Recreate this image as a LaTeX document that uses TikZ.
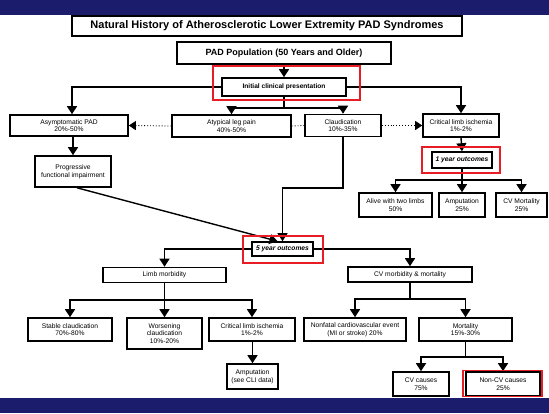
\documentclass[tikz,border=0pt]{standalone}
\usepackage{fontspec}
\setmainfont{Liberation Sans}
\usetikzlibrary{arrows.meta}
\definecolor{navy}{RGB}{28,28,108}
\definecolor{hred}{RGB}{232,28,36}
\begin{document}
\begin{tikzpicture}[x=1pt,y=-1pt,
  box/.style={draw=black,line width=1.6pt,fill=white,inner sep=0pt,align=center,
    font=\fontsize{6.7}{7.6}\selectfont},
  sz/.style 2 args={minimum width=#1pt,minimum height=#2pt},
  redbox/.style={draw=hred,line width=1.8pt,inner sep=0pt},
  conn/.style={line width=1.4pt,-{Triangle[width=10pt,length=8pt]}},
  plainline/.style={line width=1.4pt},
  dots/.style={line width=0.9pt,dotted},
  dtip/.style={-{Triangle[width=9pt,length=7pt]}},
]
\useasboundingbox (0,0) rectangle (549,413);
\fill[white] (0,0) rectangle (549,413);
\fill[navy] (0,0) rectangle (549,15);
\fill[navy] (0,398) rectangle (549,413);

% nodes
\node[box,sz={390}{20},font=\fontsize{11}{13}\selectfont\bfseries] (title) at (267,26) {Natural History of Atherosclerotic Lower Extremity PAD Syndromes};
\node[box,sz={214}{22},font=\fontsize{9}{11}\selectfont\bfseries] (pad) at (284,53) {PAD Population (50 Years and Older)};
\node[box,sz={124}{18},font=\fontsize{6.6}{8}\selectfont\bfseries] (init) at (284,87) {Initial clinical presentation};

\node[box,sz={118}{21}] (asym) at (69,125.5) {Asymptomatic PAD\\20\%-50\%};
\node[box,sz={119}{22}] (atyp) at (231.5,126) {Atypical leg pain\\40\%-50\%};
\node[box,sz={76}{22}] (claud) at (343,125.5) {Claudication\\10\%-35\%};
\node[box,sz={76}{23}] (cli) at (461,125.5) {Critical limb ischemia\\1\%-2\%};
\node[box,sz={76}{31}] (prog) at (73,171.5) {Progressive\\functional impairment};

\node[box,sz={60}{16},font=\fontsize{6.7}{7.6}\selectfont\bfseries\itshape] (one) at (462,160) {1 year outcomes};
\node[box,sz={73}{24}] (alive) at (395.5,205) {Alive with two limbs\\50\%};
\node[box,sz={46}{24}] (amp1) at (462,205) {Amputation\\25\%};
\node[box,sz={51}{24}] (cvmort) at (521.5,205) {CV Mortality\\25\%};

\node[box,sz={61}{14},font=\fontsize{6.7}{7.6}\selectfont\bfseries\itshape] (five) at (282.5,249) {5 year outcomes};
\node[box,sz={123}{15}] (limb) at (164.5,275) {Limb morbidity};
\node[box,sz={124}{15}] (cvm) at (410,274.5) {CV morbidity \& mortality};

\node[box,sz={84}{23}] (stable) at (70,329.5) {Stable claudication\\70\%-80\%};
\node[box,sz={75}{31}] (worse) at (164.5,333.5) {Worsening\\claudication\\10\%-20\%};
\node[box,sz={86}{23}] (cli2) at (252,329.5) {Critical limb ischemia\\1\%-2\%};
\node[box,sz={51}{25}] (amp2) at (252.5,376.5) {Amputation\\(see CLI data)};
\node[box,sz={102}{23}] (nonfatal) at (355,329.5) {Nonfatal cardiovascular event\\(MI or stroke) 20\%};
\node[box,sz={93}{23}] (mort) at (465.5,329.5) {Mortality\\15\%-30\%};
\node[box,sz={56}{24}] (cvc) at (421,384) {CV causes\\75\%};
\node[box,sz={74}{24}] (noncv) at (503,384) {Non-CV causes\\25\%};

% connectors
\draw[conn] (pad.south) -- (init.north);
\draw[conn] (init.west) -| ([xshift=3pt]asym.north);
\draw[conn] (init.east) -| (cli.north);
\coordinate (s1) at (284,108);
\draw[plainline] (init.south) -- (s1);
\draw[conn] (s1) -| (atyp.north);
\draw[conn] (s1) -| (claud.north);
\draw[dots,dtip] (atyp.west) -- (asym.east);
\draw[dots] (atyp.east) -- (claud.west);
\draw[dots,dtip] (claud.east) -- (cli.west);
\draw[conn] (asym.south -| prog.north) -- (prog.north);
\draw[conn] ([xshift=4pt]prog.south) -- ([xshift=-5pt]five.north);
\coordinate (cb) at (343,188);
\draw[conn] (claud.south) -- (cb) -| (five.north);

\draw[conn] (cli.south) -- (one.north);
\coordinate (os) at (462,180);
\draw[plainline] (one.south) -- (os);
\draw[conn] (os) -| (alive.north);
\draw[conn] (os) -- (amp1.north);
\draw[conn] (os) -| (cvmort.north);

\draw[conn] (five.west) -| (limb.north);
\draw[conn] (five.east) -| (cvm.north);
\coordinate (ls) at (164.5,300);
\draw[plainline] (limb.south) -- (ls);
\draw[conn] (ls) -| (stable.north);
\draw[conn] (ls) -- (worse.north);
\draw[conn] (ls) -| (cli2.north);
\draw[conn] (cli2.south -| amp2.north) -- (amp2.north);
\coordinate (cs) at (410,299);
\draw[plainline] (cvm.south) -- (cs);
\draw[conn] (cs) -| (nonfatal.north);
\draw[conn] (cs) -| (mort.north);
\coordinate (ms) at (465.5,357);
\draw[plainline] (mort.south) -- (ms);
\draw[conn] (ms) -| (cvc.north);
\draw[conn] (ms) -| (noncv.north);

% red highlight frames
\node[redbox,sz={147}{34}] (rinit) at (286.5,83) {};
\node[redbox,sz={78}{26}] (rone) at (461,160) {};
\node[redbox,sz={80}{27}] (rfive) at (283,249.5) {};
\node[redbox,sz={79}{26}] (rnon) at (502.5,383.5) {};
\end{tikzpicture}
\end{document}
